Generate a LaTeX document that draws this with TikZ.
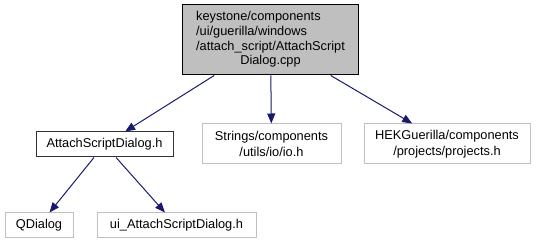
\documentclass[tikz,border=0pt]{standalone}
\usepackage{fontspec}
\setmainfont{Liberation Sans}
\usepackage{tikz}
\usetikzlibrary{arrows.meta}
\definecolor{edgec}{RGB}{25,25,112}
\definecolor{topc}{RGB}{191,191,191}
\definecolor{extc}{RGB}{191,191,191}

\begin{document}
\begin{tikzpicture}[x=0.75pt,y=-0.75pt,font=\fontsize{9.6}{11.6}\selectfont,
  box/.style={draw,inner sep=0pt,align=center,line width=0.75pt},
  cur/.style={box,fill=topc,draw=black,minimum width=132pt,minimum height=52.5pt},
  inc/.style={box,draw=black!80,fill=white},
  ext/.style={box,draw=extc,fill=white},
  dep/.style={draw=edgec,line width=0.75pt,-{Triangle[length=7.5pt,width=6pt]}}]
\useasboundingbox (0,0) rectangle (538,245);
% --- the file itself ---
\node[cur] (src) at (270.5,40)
  {\renewcommand{\arraystretch}{0.95}\begin{tabular}{@{}l@{}}keystone/components\\/ui/guerilla/windows\\
   /attach\_script/AttachScript\\\multicolumn{1}{@{}c@{}}{Dialog.cpp}\end{tabular}};
% --- first level includes ---
\node[inc,minimum width=102.75pt,minimum height=18.75pt] (asd) at (104.5,144.5) {AttachScriptDialog.h};
\node[ext,minimum width=104.25pt,minimum height=30pt] (str) at (271.5,144) {Strings/components\\/utils/io/io.h};
\node[ext,minimum width=124.5pt,minimum height=30pt] (hek) at (447,144) {HEKGuerilla/components\\/projects/projects.h};
% --- includes of the header ---
\node[ext,minimum width=51pt,minimum height=18.75pt] (qdl) at (39,225.5) {QDialog};
\node[ext,minimum width=119.25pt,minimum height=18.75pt] (uih) at (176.5,225.5) {ui\_AttachScriptDialog.h};
% --- edges ---
\draw[dep] (src) -- (asd);
\draw[dep] (src) -- (str);
\draw[dep] (src) -- (hek);
\draw[dep] (asd) -- (qdl);
\draw[dep] (asd) -- (uih);
\end{tikzpicture}
\end{document}
